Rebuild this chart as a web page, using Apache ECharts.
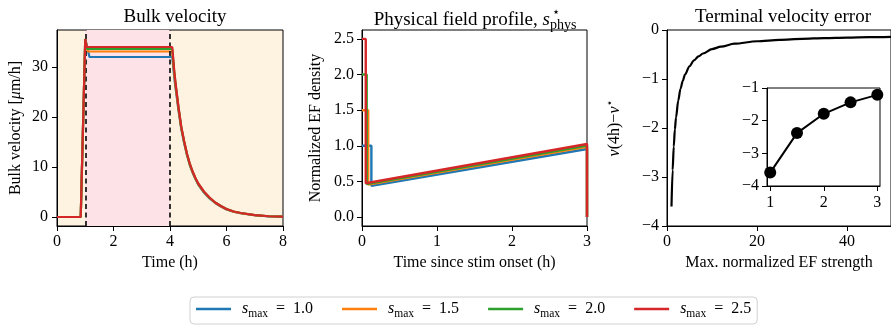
<!DOCTYPE html>
<html>
<head>
<meta charset="utf-8">
<script src="https://cdn.jsdelivr.net/npm/echarts@6/dist/echarts.min.js"></script>
<style>
  html, body { margin: 0; padding: 0; background: #fff; }
  #chart { width: 891px; height: 326px; }
</style>
</head>
<body>
<div id="chart"></div>
<script>
// Peak field strengths, one curve per value
const smaxLabels = ['1.0', '1.5', '2.0', '2.5'];
const colors = ['#1f77b4', '#ff7f0e', '#2ca02c', '#d62728'];

// Bulk velocity (µm/h) over time (h), [t, v]
const bulkS10 = [[0,0],[0.84,0],[1.0,35.6],[1.15,32.0],[4.08,32.0],[4.15,28.0],[4.2,25.7],[4.3,21.4],[4.4,17.6],[4.5,14.8],[4.6,12.4],[4.7,10.4],[4.8,8.9],[4.9,7.6],[5.0,6.5],[5.2,4.9],[5.4,3.7],[5.6,2.8],[5.8,2.1],[6.0,1.5],[6.25,1.05],[6.5,0.75],[7.0,0.35],[7.5,0.14],[8.0,0.06]];
const bulkS15 = [[0,0],[0.84,0],[1.0,35.6],[1.09,33.1],[4.08,33.1],[4.15,28.6],[4.2,26.1],[4.3,21.7],[4.4,17.8],[4.5,15.0],[4.6,12.5],[4.7,10.5],[4.8,9.0],[4.9,7.7],[5.0,6.6],[5.2,5.0],[5.4,3.8],[5.6,2.85],[5.8,2.15],[6.0,1.55],[6.25,1.08],[6.5,0.78],[7.0,0.36],[7.5,0.15],[8.0,0.06]];
const bulkS20 = [[0,0],[0.84,0],[1.0,35.6],[1.07,33.6],[4.08,33.6],[4.15,29.0],[4.2,26.4],[4.3,21.9],[4.4,17.9],[4.5,15.1],[4.6,12.6],[4.7,10.6],[4.8,9.05],[4.9,7.75],[5.0,6.65],[5.2,5.05],[5.4,3.85],[5.6,2.9],[5.8,2.2],[6.0,1.6],[6.25,1.1],[6.5,0.8],[7.0,0.37],[7.5,0.15],[8.0,0.06]];
const bulkS25 = [[0,0],[0.84,0],[1.0,35.6],[1.05,34.0],[4.08,34.0],[4.15,29.3],[4.2,26.6],[4.3,22.0],[4.4,18.0],[4.5,15.2],[4.6,12.7],[4.7,10.7],[4.8,9.1],[4.9,7.8],[5.0,6.7],[5.2,5.1],[5.4,3.9],[5.6,2.9],[5.8,2.2],[6.0,1.6],[6.25,1.1],[6.5,0.8],[7.0,0.37],[7.5,0.15],[8.0,0.06]];

// Normalized EF density vs time since stimulus onset (h), [t, s]
const fieldS10 = [[0,1.0],[0.125,1.0],[0.125,0.44],[3,0.955],[3,0]];
const fieldS15 = [[0,1.5],[0.083,1.5],[0.083,0.455],[3,0.985],[3,0]];
const fieldS20 = [[0,2.0],[0.0625,2.0],[0.0625,0.465],[3,1.005],[3,0]];
const fieldS25 = [[0,2.5],[0.05,2.5],[0.05,0.475],[3,1.025],[3,0]];

// Terminal velocity error vs maximum normalized EF strength
const errStrength = [1,1.25,1.5,1.75,2,2.5,3,3.5,4,5,6,7,8,10,12,15,20,25,30,35,40,45,50];
const errValue = [-3.6,-2.86,-2.38,-2.03,-1.79,-1.44,-1.2,-1.04,-0.91,-0.74,-0.62,-0.54,-0.48,-0.39,-0.34,-0.28,-0.23,-0.2,-0.18,-0.165,-0.155,-0.147,-0.14];

// Inset: sampled strengths
const insetStrength = [1, 1.5, 2, 2.5, 3];
const insetValue = [-3.59, -2.38, -1.79, -1.44, -1.21];

// Stimulus window (h)
const stimWindow = [1, 4];

// Tick values
const bulkYTicks = [0, 10, 20, 30];
const fieldYTicks = [0, 0.5, 1.0, 1.5, 2.0, 2.5];
const errXTicks = [0, 20, 40];
const insetXTicks = [1, 2, 3];

const FONT = "'Liberation Serif', 'Times New Roman', 'DejaVu Serif', serif";
const FS = 16;
const minus = v => String(v).replace('-', '\u2212');

const axisCommon = {
  axisLine: { show: true, onZero: false, lineStyle: { color: '#000', width: 1 } },
  axisTick: { show: true, length: 5, lineStyle: { color: '#000', width: 1 } },
  axisLabel: { color: '#000', fontFamily: FONT, fontSize: FS, margin: 8 },
  splitLine: { show: false },
  nameTextStyle: { color: '#000', fontFamily: FONT, fontSize: FS },
  nameLocation: 'middle'
};
function axis(extra) {
  const a = JSON.parse(JSON.stringify(axisCommon));
  for (const k in extra) {
    if (typeof extra[k] === 'object' && !Array.isArray(extra[k]) && a[k]) Object.assign(a[k], extra[k]);
    else a[k] = extra[k];
  }
  return a;
}

const gridBorder = { show: true, borderColor: '#000', borderWidth: 1, containLabel: false };

const bulkSets = [bulkS10, bulkS15, bulkS20, bulkS25];
const fieldSets = [fieldS10, fieldS15, fieldS20, fieldS25];

const series = [];
// stimulus window shading and boundaries
series.push({
  type: 'line', xAxisIndex: 0, yAxisIndex: 0, data: [], silent: true, z: 1,
  markArea: { silent: true, itemStyle: { color: '#fde3e8' },
    data: [[{ xAxis: stimWindow[0] }, { xAxis: stimWindow[1] }]] },
  markLine: { silent: true, symbol: 'none', label: { show: false },
    lineStyle: { color: '#111', type: [5, 3.5], width: 1.7 },
    data: stimWindow.map(t => ({ xAxis: t })) }
});
bulkSets.forEach((d, i) => series.push({
  name: smaxLabels[i], type: 'line', xAxisIndex: 0, yAxisIndex: 0, data: d,
  symbol: 'none', z: 3 + i, lineStyle: { color: colors[i], width: 2.2 }, itemStyle: { color: colors[i] }
}));
fieldSets.forEach((d, i) => series.push({
  name: smaxLabels[i], type: 'line', xAxisIndex: 1, yAxisIndex: 1, data: d,
  symbol: 'none', z: 3 + i, lineStyle: { color: colors[i], width: 2.4 }, itemStyle: { color: colors[i] }
}));
series.push({
  type: 'line', xAxisIndex: 2, yAxisIndex: 2, symbol: 'none', smooth: 0.3, smoothMonotone: 'x',
  data: errStrength.map((s, i) => [s, errValue[i]]), lineStyle: { color: '#000', width: 2.2 }
});
series.push({
  type: 'line', xAxisIndex: 3, yAxisIndex: 3, symbol: 'circle', symbolSize: 12,
  data: insetStrength.map((s, i) => [s, insetValue[i]]),
  lineStyle: { color: '#000', width: 2 }, itemStyle: { color: '#000' }
});

const chart = echarts.init(document.getElementById('chart'), null, { renderer: 'canvas' });
chart.setOption({
  animation: false,
  backgroundColor: '#fff',
  title: [
    { text: 'Bulk velocity', left: 170, top: 3, textAlign: 'center',
      textStyle: { fontFamily: FONT, fontSize: 19, fontWeight: 'normal', color: '#000' } },
    { text: 'Physical field profile, {i|s}{sub|phys}', left: 470, top: 3, textAlign: 'center',
      textStyle: { fontFamily: FONT, fontSize: 19, fontWeight: 'normal', color: '#000',
        rich: { i: { fontFamily: FONT, fontSize: 19, fontStyle: 'italic', lineHeight: 24 },
                sub: { fontFamily: FONT, fontSize: 14, lineHeight: 10, verticalAlign: 'bottom' } } } },
    { text: '\u22C6', left: 551, top: 1, textAlign: 'center',
      textStyle: { fontFamily: "'DejaVu Sans', sans-serif", fontSize: 13, fontWeight: 'normal', color: '#000' } },
    { text: 'Terminal velocity error', left: 778, top: 3, textAlign: 'center',
      textStyle: { fontFamily: FONT, fontSize: 19, fontWeight: 'normal', color: '#000' } }
  ],
  legend: {
    data: smaxLabels.map(n => ({ name: n, icon: 'rect' })),
    left: 190, top: 297,
    orient: 'horizontal',
    itemWidth: 35, itemHeight: 2.5, itemGap: 29,
    backgroundColor: '#fff', borderColor: '#d0d0d0', borderWidth: 1, borderRadius: 4,
    padding: [4, 6, 4, 6],
    formatter: n => '{i|s}{sub|max}{n|\u2002=\u2002' + n + '}',
    textStyle: {
      color: '#000', fontFamily: FONT, fontSize: FS, padding: [0, 0, 0, 6],
      rich: {
        i: { fontFamily: FONT, fontSize: FS, fontStyle: 'italic', lineHeight: 22 },
        sub: { fontFamily: FONT, fontSize: 11.5, lineHeight: 11, verticalAlign: 'bottom' },
        n: { fontFamily: FONT, fontSize: FS, lineHeight: 22 }
      }
    }
  },
  grid: [
    Object.assign({ left: 57, top: 30, width: 226, height: 196, backgroundColor: '#fef2e1' }, gridBorder),
    Object.assign({ left: 362, top: 30, width: 225, height: 196 }, gridBorder),
    Object.assign({ left: 667, top: 30, width: 224, height: 196 }, gridBorder),
    Object.assign({ left: 767, top: 88, width: 113, height: 98, backgroundColor: '#fff' }, gridBorder)
  ],
  xAxis: [
    axis({ type: 'value', gridIndex: 0, min: 0, max: 8, interval: 2, name: 'Time (h)', nameGap: 28 }),
    axis({ type: 'value', gridIndex: 1, min: 0, max: 3, interval: 1, name: 'Time since stim onset (h)', nameGap: 28 }),
    axis({ type: 'value', gridIndex: 2, min: 0, max: 49.8, name: 'Max. normalized EF strength', nameGap: 28,
      axisLabel: { customValues: errXTicks }, axisTick: { customValues: errXTicks } }),
    axis({ type: 'value', gridIndex: 3, min: 0.94, max: 3.05, z: 10,
      axisLabel: { customValues: insetXTicks, margin: 9 }, axisTick: { customValues: insetXTicks } })
  ],
  yAxis: [
    axis({ type: 'value', gridIndex: 0, min: -1.8, max: 37.4, name: 'Bulk velocity [{i|\u03BC}m/h]', nameGap: 33,
      nameTextStyle: { rich: { i: { fontFamily: FONT, fontSize: FS, fontStyle: 'italic' } } },
      axisLabel: { customValues: bulkYTicks, margin: 9 }, axisTick: { customValues: bulkYTicks } }),
    axis({ type: 'value', gridIndex: 1, min: -0.125, max: 2.625, name: 'Normalized EF density', nameGap: 38,
      axisLabel: { customValues: fieldYTicks, formatter: v => v.toFixed(1) }, axisTick: { customValues: fieldYTicks } }),
    axis({ type: 'value', gridIndex: 2, min: -4, max: 0, interval: 1, name: '{i|v}(4h)\u2212{i|v}{sup|\u22C6}', nameGap: 42,
      nameTextStyle: { rich: {
        i: { fontFamily: FONT, fontSize: FS, fontStyle: 'italic', lineHeight: 20 },
        sup: { fontFamily: "'DejaVu Sans', sans-serif", fontSize: 11, lineHeight: 10, verticalAlign: 'top' } } },
      axisLabel: { formatter: minus } }),
    axis({ type: 'value', gridIndex: 3, min: -4, max: -1, interval: 1, z: 10,
      axisLabel: { formatter: minus } })
  ],
  series: series
});
</script>
</body>
</html>
